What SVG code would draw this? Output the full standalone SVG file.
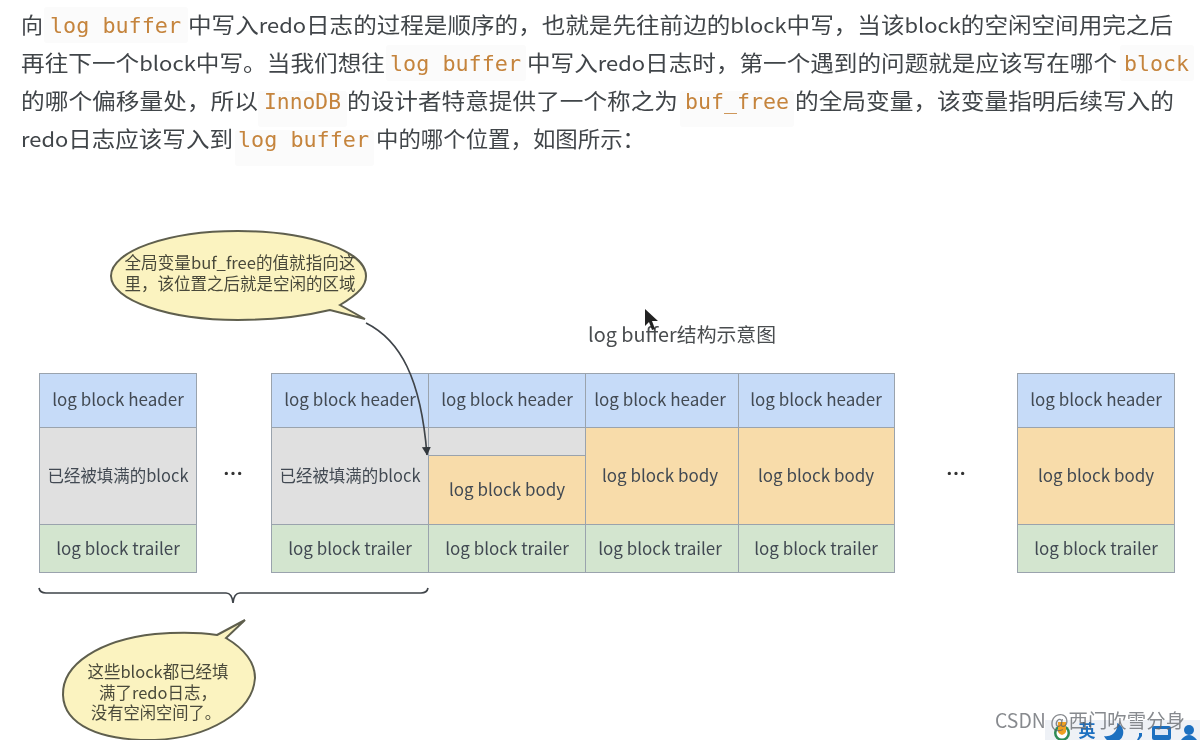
<svg xmlns="http://www.w3.org/2000/svg" width="1200" height="740" viewBox="0 0 1200 740">
<style>
text{font-family:"Noto Sans CJK SC","Noto Sans","Open Sans",sans-serif}
.p{font-size:21.5px;fill:#414549}
.e{font-size:20px}
.c{font-family:"DejaVu Sans Mono","Liberation Mono",monospace;font-size:21.5px;fill:#c5843c}
.cb{fill:#fbfbfb}
.b{stroke:#9aa3ad;stroke-width:1}
.h{fill:#c6dbf8}.g{fill:#e0e0e0}.o{fill:#f8dcaa}.t{fill:#d3e5cf}
.l{font-size:17px;fill:#424a52;text-anchor:middle}
.s{font-size:16.5px;fill:#4a4a3a;text-anchor:middle}
.bub{fill:#fbf3c0;stroke:#5f5f4e;stroke-width:2}
.line{fill:none;stroke:#3f444a;stroke-width:1.7}
</style>
<defs>
<marker id="arrow" markerWidth="10" markerHeight="10" refX="8" refY="4.5" orient="auto" markerUnits="userSpaceOnUse"><path d="M0 0L8.5 4.5L0 9Z" fill="#33383e"/></marker>
<filter id="soft" x="-2%" y="-2%" width="104%" height="104%"><feGaussianBlur stdDeviation="0.45"/></filter>
</defs>
<rect width="1200" height="740" fill="#fff"/>
<g id="content" filter="url(#soft)">
<g id="paragraph">
<rect class="cb" x="44" y="7" width="144" height="36" rx="3"/>
<rect class="cb" x="386" y="45" width="140" height="36" rx="3"/>
<rect class="cb" x="1120" y="45" width="74" height="36" rx="3"/>
<rect class="cb" x="258" y="91" width="89" height="36" rx="3"/>
<rect class="cb" x="680" y="91" width="114" height="36" rx="3"/>
<rect class="cb" x="235" y="130" width="139" height="36" rx="3"/>
<text class="p" x="21" y="33" textLength="22" lengthAdjust="spacingAndGlyphs">向</text>
<text class="c" x="50" y="33" textLength="131" lengthAdjust="spacingAndGlyphs">log buffer</text>
<text class="p" x="188" y="33" textLength="985" lengthAdjust="spacingAndGlyphs">中写入<tspan class="e">redo</tspan>日志的过程是顺序的，也就是先往前边的<tspan class="e">block</tspan>中写，当该<tspan class="e">block</tspan>的空闲空间用完之后</text>
<text class="p" x="21" y="71" textLength="364" lengthAdjust="spacingAndGlyphs">再往下一个<tspan class="e">block</tspan>中写。当我们想往</text>
<text class="c" x="390" y="71" textLength="131" lengthAdjust="spacingAndGlyphs">log buffer</text>
<text class="p" x="527" y="71" textLength="590" lengthAdjust="spacingAndGlyphs">中写入<tspan class="e">redo</tspan>日志时，第一个遇到的问题就是应该写在哪个</text>
<text class="c" x="1124" y="71" textLength="65" lengthAdjust="spacingAndGlyphs">block</text>
<text class="p" x="21" y="109" textLength="237" lengthAdjust="spacingAndGlyphs">的哪个偏移量处，所以</text>
<text class="c" x="264" y="109" textLength="77" lengthAdjust="spacingAndGlyphs">InnoDB</text>
<text class="p" x="347" y="109" textLength="331" lengthAdjust="spacingAndGlyphs">的设计者特意提供了一个称之为</text>
<text class="c" x="685" y="109" textLength="104" lengthAdjust="spacingAndGlyphs">buf_free</text>
<text class="p" x="795" y="109" textLength="379" lengthAdjust="spacingAndGlyphs">的全局变量，该变量指明后续写入的</text>
<text class="p" x="21" y="147" textLength="212" lengthAdjust="spacingAndGlyphs"><tspan class="e">redo</tspan>日志应该写入到</text>
<text class="c" x="238" y="147" textLength="131" lengthAdjust="spacingAndGlyphs">log buffer</text>
<text class="p" x="376" y="147" textLength="269" lengthAdjust="spacingAndGlyphs">中的哪个位置，如图所示：</text>
</g>
<text id="title" x="682" y="342" text-anchor="middle" font-size="19.5" fill="#4a4d50" textLength="188" lengthAdjust="spacingAndGlyphs">log buffer结构示意图</text>
<g id="block1">
<rect class="b h" x="39.5" y="373.5" width="157" height="54"/><rect class="b g" x="39.5" y="427.5" width="157" height="97"/><rect class="b t" x="39.5" y="524.5" width="157" height="48"/>
<text class="l" x="118" y="406">log block header</text><text class="l" x="118" y="482" textLength="141" lengthAdjust="spacingAndGlyphs">已经被填满的block</text><text class="l" x="118" y="555">log block trailer</text>
</g>
<text id="dots1" x="233" y="481" text-anchor="middle" font-size="20" font-weight="700" fill="#333">…</text>
<g id="block2">
<rect class="b h" x="271.5" y="373.5" width="157" height="54"/><rect class="b g" x="271.5" y="427.5" width="157" height="97"/><rect class="b t" x="271.5" y="524.5" width="157" height="48"/>
<text class="l" x="350" y="406">log block header</text><text class="l" x="350" y="482" textLength="141" lengthAdjust="spacingAndGlyphs">已经被填满的block</text><text class="l" x="350" y="555">log block trailer</text>
</g>
<g id="block3">
<rect class="b h" x="428.5" y="373.5" width="157" height="54"/><rect class="b g" x="428.5" y="427.5" width="157" height="28"/><rect class="b o" x="428.5" y="455.5" width="157" height="69"/><rect class="b t" x="428.5" y="524.5" width="157" height="48"/>
<text class="l" x="507" y="406">log block header</text><text class="l" x="507" y="496">log block body</text><text class="l" x="507" y="555">log block trailer</text>
</g>
<g id="block4">
<rect class="b h" x="585.5" y="373.5" width="153" height="54"/><rect class="b o" x="585.5" y="427.5" width="153" height="97"/><rect class="b t" x="585.5" y="524.5" width="153" height="48"/>
<text class="l" x="660" y="406">log block header</text><text class="l" x="660" y="482">log block body</text><text class="l" x="660" y="555">log block trailer</text>
</g>
<g id="block5">
<rect class="b h" x="738.5" y="373.5" width="156" height="54"/><rect class="b o" x="738.5" y="427.5" width="156" height="97"/><rect class="b t" x="738.5" y="524.5" width="156" height="48"/>
<text class="l" x="816" y="406">log block header</text><text class="l" x="816" y="482">log block body</text><text class="l" x="816" y="555">log block trailer</text>
</g>
<text id="dots2" x="956" y="481" text-anchor="middle" font-size="20" font-weight="700" fill="#333">…</text>
<g id="block6">
<rect class="b h" x="1017.5" y="373.5" width="157" height="54"/><rect class="b o" x="1017.5" y="427.5" width="157" height="97"/><rect class="b t" x="1017.5" y="524.5" width="157" height="48"/>
<text class="l" x="1096" y="406">log block header</text><text class="l" x="1096" y="482">log block body</text><text class="l" x="1096" y="555">log block trailer</text>
</g>
<g id="connectors">
<path class="line" d="M366 323C400 340 421 378 427 455" marker-end="url(#arrow)"/>
<path class="line" d="M39 588Q40 593 46 593H226Q232 593 233 603Q234 593 240 593H421Q427 593 428 588"/>
</g>
<g id="callout1">
<path class="bub" d="M340 305C360 293 366 285 366 276C366 251 309 231 238 231C168 231 111 251 111 276C111 300 168 320 238 320C272 320 305 316 330 310L365 319Z"/>
<text class="s" x="240" y="269" textLength="231" lengthAdjust="spacingAndGlyphs">全局变量buf_free的值就指向这</text>
<text class="s" x="240" y="290" textLength="231" lengthAdjust="spacingAndGlyphs">里，该位置之后就是空闲的区域</text>
</g>
<g id="callout2">
<path class="bub" d="M217 635L245 620L226 638C246 650 255 664 255 678C253 712 208 738 155 740C100 741 64 725 63 695C62 664 100 640 155 634C178 632 198 632 217 635Z"/>
<text class="s" x="158" y="678" textLength="141" lengthAdjust="spacingAndGlyphs">这些block都已经填</text>
<text class="s" x="158" y="699" textLength="118" lengthAdjust="spacingAndGlyphs">满了redo日志，</text>
<text class="s" x="156" y="719" textLength="130" lengthAdjust="spacingAndGlyphs">没有空闲空间了。</text>
</g>
<path id="cursor" d="M645 309V326L649 322L652 330L655 329L652 321L658 321Z" fill="#222"/>
<g id="ime">
<rect x="1045" y="720" width="155" height="20" fill="#eef1f6"/>
<circle cx="1062" cy="733" r="8" fill="#2e8b57"/><circle cx="1062" cy="733" r="5.5" fill="#fff"/><path d="M1058 722H1066V732Q1062 738 1058 732Z" fill="#f0a020"/>
<text x="1087" y="737" text-anchor="middle" font-size="17" font-weight="700" fill="#1f6fc0">英</text>
<path d="M1117 723A10 10 0 1 1 1104 736A11 11 0 0 0 1117 723Z" fill="#1f6fc0"/>
<path d="M1139 733h3v3l-3 4h-2l2-4z" fill="#1f6fc0"/>
<rect x="1152" y="726" width="19" height="14" rx="2" fill="#1f6fc0"/><rect x="1155" y="729" width="13" height="6" fill="#dfe8f5"/>
<circle cx="1189" cy="730" r="5" fill="#1f6fc0"/><path d="M1181 740Q1189 730 1197 740Z" fill="#1f6fc0"/>
</g>
<text id="watermark" x="995" y="728" font-size="19.5" fill="#5f6368" fill-opacity=".75" textLength="190" lengthAdjust="spacingAndGlyphs">CSDN @西门吹雪分身</text>
</g>
</svg>
